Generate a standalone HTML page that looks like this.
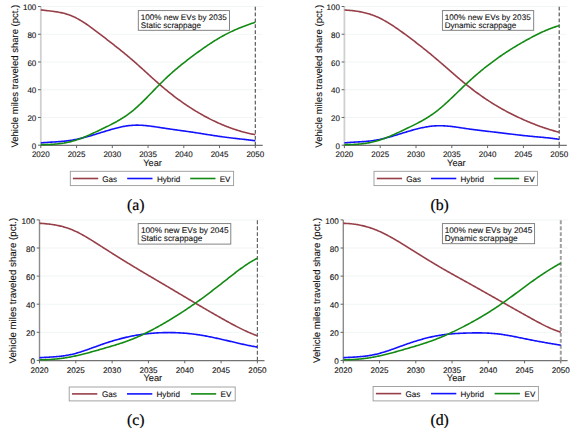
<!DOCTYPE html>
<html><head><meta charset="utf-8"><style>
html,body{margin:0;padding:0;background:#fff;}
body{width:575px;height:428px;overflow:hidden;}
svg{display:block;}
text{font-family:"Liberation Sans",sans-serif;fill:#111;stroke:#111;stroke-width:0.1px;text-rendering:geometricPrecision;}
text.lab{font-family:"Liberation Serif",serif;fill:#000;stroke:#000;stroke-width:0.2px;}
</style></head><body>
<svg width="575" height="428" viewBox="0 0 575 428" xmlns="http://www.w3.org/2000/svg">
<rect width="575" height="428" fill="#fff"/>
<line x1="40.80" y1="117.46" x2="262.70" y2="117.46" stroke="#edf2f3" stroke-width="0.8"/>
<line x1="40.80" y1="89.72" x2="262.70" y2="89.72" stroke="#edf2f3" stroke-width="0.8"/>
<line x1="40.80" y1="61.98" x2="262.70" y2="61.98" stroke="#edf2f3" stroke-width="0.8"/>
<line x1="40.80" y1="34.24" x2="262.70" y2="34.24" stroke="#edf2f3" stroke-width="0.8"/>
<line x1="40.80" y1="6.50" x2="262.70" y2="6.50" stroke="#edf2f3" stroke-width="0.8"/>
<line x1="40.80" y1="6.50" x2="40.80" y2="145.20" stroke="#d0d0d0" stroke-width="1.8"/>
<line x1="39.90" y1="145.40" x2="262.70" y2="145.40" stroke="#727272" stroke-width="1.25"/>
<line x1="38.00" y1="145.20" x2="40.80" y2="145.20" stroke="#666" stroke-width="1"/>
<text x="36.30" y="148.80" text-anchor="end" font-size="8">0</text>
<line x1="38.00" y1="117.46" x2="40.80" y2="117.46" stroke="#666" stroke-width="1"/>
<text x="36.30" y="121.06" text-anchor="end" font-size="8">20</text>
<line x1="38.00" y1="89.72" x2="40.80" y2="89.72" stroke="#666" stroke-width="1"/>
<text x="36.30" y="93.32" text-anchor="end" font-size="8">40</text>
<line x1="38.00" y1="61.98" x2="40.80" y2="61.98" stroke="#666" stroke-width="1"/>
<text x="36.30" y="65.58" text-anchor="end" font-size="8">60</text>
<line x1="38.00" y1="34.24" x2="40.80" y2="34.24" stroke="#666" stroke-width="1"/>
<text x="36.30" y="37.84" text-anchor="end" font-size="8">80</text>
<line x1="38.00" y1="6.50" x2="40.80" y2="6.50" stroke="#666" stroke-width="1"/>
<text x="36.30" y="10.10" text-anchor="end" font-size="8">100</text>
<line x1="40.80" y1="145.20" x2="40.80" y2="148.10" stroke="#666" stroke-width="1"/>
<text x="40.80" y="157.00" text-anchor="middle" font-size="8">2020</text>
<line x1="76.55" y1="145.20" x2="76.55" y2="148.10" stroke="#666" stroke-width="1"/>
<text x="76.55" y="157.00" text-anchor="middle" font-size="8">2025</text>
<line x1="112.30" y1="145.20" x2="112.30" y2="148.10" stroke="#666" stroke-width="1"/>
<text x="112.30" y="157.00" text-anchor="middle" font-size="8">2030</text>
<line x1="148.05" y1="145.20" x2="148.05" y2="148.10" stroke="#666" stroke-width="1"/>
<text x="148.05" y="157.00" text-anchor="middle" font-size="8">2035</text>
<line x1="183.80" y1="145.20" x2="183.80" y2="148.10" stroke="#666" stroke-width="1"/>
<text x="183.80" y="157.00" text-anchor="middle" font-size="8">2040</text>
<line x1="219.55" y1="145.20" x2="219.55" y2="148.10" stroke="#666" stroke-width="1"/>
<text x="219.55" y="157.00" text-anchor="middle" font-size="8">2045</text>
<line x1="255.30" y1="145.20" x2="255.30" y2="148.10" stroke="#666" stroke-width="1"/>
<text x="255.30" y="157.00" text-anchor="middle" font-size="8">2050</text>
<text x="152.55" y="165.90" text-anchor="middle" font-size="9.2">Year</text>
<line x1="255.30" y1="6.50" x2="255.30" y2="145.20" stroke="#4a4a4a" stroke-width="1.1" stroke-dasharray="3.7 2.175" stroke-dashoffset="-0.2"/>
<path d="M40.80,9.84 L41.80,9.97 L42.80,10.10 L43.81,10.23 L44.81,10.35 L45.81,10.47 L46.81,10.59 L47.82,10.70 L48.82,10.82 L49.82,10.94 L50.82,11.06 L51.83,11.19 L52.83,11.32 L53.83,11.45 L54.83,11.59 L55.84,11.74 L56.84,11.90 L57.84,12.07 L58.84,12.24 L59.84,12.43 L60.85,12.63 L61.85,12.85 L62.85,13.08 L63.85,13.33 L64.86,13.59 L65.86,13.87 L66.86,14.17 L67.86,14.48 L68.87,14.82 L69.87,15.18 L70.87,15.56 L71.87,15.97 L72.87,16.40 L73.88,16.85 L74.88,17.33 L75.88,17.82 L76.88,18.34 L77.89,18.88 L78.89,19.44 L79.89,20.01 L80.89,20.60 L81.90,21.21 L82.90,21.83 L83.90,22.47 L84.90,23.13 L85.91,23.79 L86.91,24.47 L87.91,25.17 L88.91,25.87 L89.91,26.58 L90.92,27.30 L91.92,28.03 L92.92,28.77 L93.92,29.52 L94.93,30.27 L95.93,31.03 L96.93,31.79 L97.93,32.56 L98.94,33.33 L99.94,34.10 L100.94,34.87 L101.94,35.65 L102.94,36.42 L103.95,37.19 L104.95,37.97 L105.95,38.74 L106.95,39.52 L107.96,40.29 L108.96,41.07 L109.96,41.85 L110.96,42.62 L111.97,43.41 L112.97,44.19 L113.97,44.97 L114.97,45.76 L115.98,46.55 L116.98,47.34 L117.98,48.14 L118.98,48.94 L119.98,49.74 L120.99,50.55 L121.99,51.36 L122.99,52.17 L123.99,52.99 L125.00,53.81 L126.00,54.64 L127.00,55.47 L128.00,56.31 L129.01,57.15 L130.01,58.00 L131.01,58.86 L132.01,59.72 L133.01,60.58 L134.02,61.46 L135.02,62.34 L136.02,63.22 L137.02,64.11 L138.03,65.00 L139.03,65.90 L140.03,66.80 L141.03,67.71 L142.04,68.61 L143.04,69.52 L144.04,70.43 L145.04,71.34 L146.05,72.26 L147.05,73.17 L148.05,74.08 L149.05,74.99 L150.05,75.90 L151.06,76.81 L152.06,77.72 L153.06,78.62 L154.06,79.52 L155.07,80.42 L156.07,81.31 L157.07,82.20 L158.07,83.08 L159.08,83.96 L160.08,84.83 L161.08,85.70 L162.08,86.56 L163.09,87.41 L164.09,88.26 L165.09,89.09 L166.09,89.92 L167.09,90.74 L168.10,91.55 L169.10,92.36 L170.10,93.16 L171.10,93.95 L172.11,94.73 L173.11,95.50 L174.11,96.27 L175.11,97.03 L176.12,97.78 L177.12,98.53 L178.12,99.27 L179.12,100.00 L180.12,100.72 L181.13,101.43 L182.13,102.14 L183.13,102.84 L184.13,103.54 L185.14,104.22 L186.14,104.90 L187.14,105.57 L188.14,106.24 L189.15,106.90 L190.15,107.55 L191.15,108.19 L192.15,108.83 L193.16,109.46 L194.16,110.08 L195.16,110.70 L196.16,111.31 L197.16,111.91 L198.17,112.50 L199.17,113.09 L200.17,113.67 L201.17,114.25 L202.18,114.82 L203.18,115.38 L204.18,115.93 L205.18,116.48 L206.19,117.02 L207.19,117.55 L208.19,118.08 L209.19,118.60 L210.19,119.11 L211.20,119.61 L212.20,120.11 L213.20,120.60 L214.20,121.08 L215.21,121.56 L216.21,122.03 L217.21,122.49 L218.21,122.94 L219.22,123.39 L220.22,123.83 L221.22,124.26 L222.22,124.69 L223.23,125.11 L224.23,125.52 L225.23,125.92 L226.23,126.32 L227.23,126.71 L228.24,127.09 L229.24,127.46 L230.24,127.83 L231.24,128.19 L232.25,128.54 L233.25,128.89 L234.25,129.23 L235.25,129.56 L236.26,129.88 L237.26,130.20 L238.26,130.51 L239.26,130.81 L240.26,131.11 L241.27,131.40 L242.27,131.68 L243.27,131.96 L244.27,132.22 L245.28,132.49 L246.28,132.74 L247.28,132.99 L248.28,133.23 L249.29,133.46 L250.29,133.69 L251.29,133.91 L252.29,134.12 L253.30,134.33 L254.30,134.52 L255.30,134.72" fill="none" stroke="#973f48" stroke-width="1.6" stroke-linejoin="round"/>
<path d="M40.80,142.89 L41.80,142.80 L42.80,142.72 L43.81,142.64 L44.81,142.56 L45.81,142.49 L46.81,142.43 L47.82,142.36 L48.82,142.30 L49.82,142.23 L50.82,142.17 L51.83,142.11 L52.83,142.05 L53.83,141.99 L54.83,141.93 L55.84,141.86 L56.84,141.80 L57.84,141.73 L58.84,141.66 L59.84,141.58 L60.85,141.50 L61.85,141.41 L62.85,141.32 L63.85,141.23 L64.86,141.13 L65.86,141.02 L66.86,140.90 L67.86,140.78 L68.87,140.65 L69.87,140.51 L70.87,140.36 L71.87,140.20 L72.87,140.03 L73.88,139.85 L74.88,139.66 L75.88,139.46 L76.88,139.26 L77.89,139.04 L78.89,138.82 L79.89,138.59 L80.89,138.35 L81.90,138.11 L82.90,137.86 L83.90,137.60 L84.90,137.34 L85.91,137.07 L86.91,136.80 L87.91,136.52 L88.91,136.24 L89.91,135.95 L90.92,135.66 L91.92,135.36 L92.92,135.07 L93.92,134.77 L94.93,134.46 L95.93,134.16 L96.93,133.85 L97.93,133.54 L98.94,133.23 L99.94,132.92 L100.94,132.61 L101.94,132.30 L102.94,131.99 L103.95,131.68 L104.95,131.37 L105.95,131.06 L106.95,130.76 L107.96,130.45 L108.96,130.15 L109.96,129.86 L110.96,129.57 L111.97,129.28 L112.97,129.00 L113.97,128.72 L114.97,128.45 L115.98,128.19 L116.98,127.94 L117.98,127.69 L118.98,127.45 L119.98,127.22 L120.99,127.00 L121.99,126.79 L122.99,126.59 L123.99,126.40 L125.00,126.22 L126.00,126.06 L127.00,125.90 L128.00,125.76 L129.01,125.64 L130.01,125.52 L131.01,125.43 L132.01,125.34 L133.01,125.28 L134.02,125.22 L135.02,125.19 L136.02,125.17 L137.02,125.16 L138.03,125.16 L139.03,125.18 L140.03,125.21 L141.03,125.26 L142.04,125.31 L143.04,125.38 L144.04,125.45 L145.04,125.54 L146.05,125.63 L147.05,125.73 L148.05,125.84 L149.05,125.95 L150.05,126.08 L151.06,126.21 L152.06,126.34 L153.06,126.48 L154.06,126.62 L155.07,126.77 L156.07,126.92 L157.07,127.07 L158.07,127.22 L159.08,127.38 L160.08,127.53 L161.08,127.69 L162.08,127.85 L163.09,128.00 L164.09,128.15 L165.09,128.31 L166.09,128.46 L167.09,128.60 L168.10,128.75 L169.10,128.90 L170.10,129.04 L171.10,129.19 L172.11,129.33 L173.11,129.47 L174.11,129.61 L175.11,129.75 L176.12,129.89 L177.12,130.03 L178.12,130.17 L179.12,130.31 L180.12,130.45 L181.13,130.59 L182.13,130.73 L183.13,130.87 L184.13,131.01 L185.14,131.15 L186.14,131.29 L187.14,131.44 L188.14,131.58 L189.15,131.72 L190.15,131.87 L191.15,132.01 L192.15,132.16 L193.16,132.31 L194.16,132.46 L195.16,132.61 L196.16,132.77 L197.16,132.92 L198.17,133.08 L199.17,133.23 L200.17,133.39 L201.17,133.55 L202.18,133.71 L203.18,133.87 L204.18,134.03 L205.18,134.19 L206.19,134.35 L207.19,134.51 L208.19,134.67 L209.19,134.83 L210.19,134.98 L211.20,135.14 L212.20,135.30 L213.20,135.45 L214.20,135.61 L215.21,135.76 L216.21,135.91 L217.21,136.06 L218.21,136.21 L219.22,136.36 L220.22,136.50 L221.22,136.65 L222.22,136.79 L223.23,136.92 L224.23,137.06 L225.23,137.19 L226.23,137.32 L227.23,137.45 L228.24,137.57 L229.24,137.70 L230.24,137.82 L231.24,137.94 L232.25,138.05 L233.25,138.17 L234.25,138.29 L235.25,138.40 L236.26,138.51 L237.26,138.63 L238.26,138.74 L239.26,138.85 L240.26,138.96 L241.27,139.07 L242.27,139.19 L243.27,139.30 L244.27,139.41 L245.28,139.53 L246.28,139.65 L247.28,139.76 L248.28,139.88 L249.29,140.00 L250.29,140.12 L251.29,140.25 L252.29,140.38 L253.30,140.50 L254.30,140.64 L255.30,140.77" fill="none" stroke="#1212ff" stroke-width="1.6" stroke-linejoin="round"/>
<path d="M40.80,144.63 L41.80,144.62 L42.80,144.61 L43.81,144.60 L44.81,144.59 L45.81,144.57 L46.81,144.54 L47.82,144.51 L48.82,144.48 L49.82,144.44 L50.82,144.39 L51.83,144.34 L52.83,144.28 L53.83,144.21 L54.83,144.14 L55.84,144.06 L56.84,143.97 L57.84,143.87 L58.84,143.76 L59.84,143.64 L60.85,143.51 L61.85,143.37 L62.85,143.22 L63.85,143.07 L64.86,142.89 L65.86,142.71 L66.86,142.52 L67.86,142.31 L68.87,142.09 L69.87,141.85 L70.87,141.61 L71.87,141.34 L72.87,141.07 L73.88,140.78 L74.88,140.48 L75.88,140.16 L76.88,139.83 L77.89,139.49 L78.89,139.14 L79.89,138.78 L80.89,138.41 L81.90,138.03 L82.90,137.63 L83.90,137.23 L84.90,136.83 L85.91,136.41 L86.91,135.98 L87.91,135.55 L88.91,135.11 L89.91,134.67 L90.92,134.22 L91.92,133.76 L92.92,133.30 L93.92,132.84 L94.93,132.37 L95.93,131.90 L96.93,131.42 L97.93,130.95 L98.94,130.47 L99.94,129.99 L100.94,129.50 L101.94,129.02 L102.94,128.54 L103.95,128.05 L104.95,127.57 L105.95,127.08 L106.95,126.59 L107.96,126.10 L108.96,125.60 L109.96,125.10 L110.96,124.59 L111.97,124.07 L112.97,123.55 L113.97,123.02 L114.97,122.48 L115.98,121.94 L116.98,121.38 L117.98,120.81 L118.98,120.23 L119.98,119.64 L120.99,119.03 L121.99,118.42 L122.99,117.78 L123.99,117.14 L125.00,116.47 L126.00,115.79 L127.00,115.10 L128.00,114.38 L129.01,113.65 L130.01,112.90 L131.01,112.12 L132.01,111.33 L133.01,110.51 L134.02,109.68 L135.02,108.82 L136.02,107.94 L137.02,107.05 L138.03,106.14 L139.03,105.21 L140.03,104.27 L141.03,103.31 L142.04,102.34 L143.04,101.36 L144.04,100.37 L145.04,99.37 L146.05,98.35 L147.05,97.34 L148.05,96.31 L149.05,95.29 L150.05,94.25 L151.06,93.22 L152.06,92.18 L153.06,91.14 L154.06,90.10 L155.07,89.07 L156.07,88.03 L157.07,87.00 L158.07,85.98 L159.08,84.96 L160.08,83.95 L161.08,82.94 L162.08,81.95 L163.09,80.96 L164.09,79.99 L165.09,79.03 L166.09,78.08 L167.09,77.14 L168.10,76.21 L169.10,75.29 L170.10,74.38 L171.10,73.48 L172.11,72.59 L173.11,71.71 L174.11,70.84 L175.11,69.98 L176.12,69.13 L177.12,68.28 L178.12,67.45 L179.12,66.62 L180.12,65.80 L181.13,64.98 L182.13,64.18 L183.13,63.38 L184.13,62.58 L185.14,61.79 L186.14,61.01 L187.14,60.23 L188.14,59.46 L189.15,58.70 L190.15,57.93 L191.15,57.18 L192.15,56.42 L193.16,55.68 L194.16,54.93 L195.16,54.19 L196.16,53.45 L197.16,52.72 L198.17,51.99 L199.17,51.26 L200.17,50.54 L201.17,49.82 L202.18,49.11 L203.18,48.41 L204.18,47.71 L205.18,47.01 L206.19,46.32 L207.19,45.64 L208.19,44.96 L209.19,44.29 L210.19,43.63 L211.20,42.97 L212.20,42.32 L213.20,41.68 L214.20,41.05 L215.21,40.42 L216.21,39.81 L217.21,39.20 L218.21,38.60 L219.22,38.00 L220.22,37.42 L221.22,36.85 L222.22,36.28 L223.23,35.73 L224.23,35.18 L225.23,34.65 L226.23,34.12 L227.23,33.61 L228.24,33.10 L229.24,32.60 L230.24,32.12 L231.24,31.64 L232.25,31.17 L233.25,30.71 L234.25,30.26 L235.25,29.81 L236.26,29.37 L237.26,28.94 L238.26,28.52 L239.26,28.11 L240.26,27.70 L241.27,27.30 L242.27,26.90 L243.27,26.52 L244.27,26.13 L245.28,25.76 L246.28,25.39 L247.28,25.02 L248.28,24.66 L249.29,24.31 L250.29,23.96 L251.29,23.61 L252.29,23.27 L253.30,22.93 L254.30,22.60 L255.30,22.27" fill="none" stroke="#138a13" stroke-width="1.6" stroke-linejoin="round"/>
<rect x="138.30" y="10.60" width="91.20" height="19.70" fill="#fff" stroke="#777" stroke-width="0.9"/>
<text x="140.80" y="19.70" font-size="8.1">100% new EVs by 2035</text>
<text x="140.80" y="27.90" font-size="8.1">Static scrappage</text>
<rect x="70.30" y="171.30" width="163.30" height="14.30" fill="#fff" stroke="#9a9a9a" stroke-width="0.9"/>
<line x1="72.90" y1="178.50" x2="98.20" y2="178.50" stroke="#973f48" stroke-width="1.6"/>
<text x="102.30" y="181.60" font-size="8.1">Gas</text>
<line x1="127.20" y1="178.50" x2="152.50" y2="178.50" stroke="#1212ff" stroke-width="1.6"/>
<text x="156.90" y="181.60" font-size="8.1">Hybrid</text>
<line x1="190.20" y1="178.50" x2="215.50" y2="178.50" stroke="#138a13" stroke-width="1.6"/>
<text x="219.70" y="181.60" font-size="8.1">EV</text>
<text transform="translate(18.40,76.15) rotate(-90)" text-anchor="middle" font-size="9.52">Vehicle miles traveled share (pct.)</text>
<text x="126.90" y="209.50" class="lab" font-size="15.8">(a)</text>
<line x1="344.40" y1="117.46" x2="566.80" y2="117.46" stroke="#edf2f3" stroke-width="0.8"/>
<line x1="344.40" y1="89.72" x2="566.80" y2="89.72" stroke="#edf2f3" stroke-width="0.8"/>
<line x1="344.40" y1="61.98" x2="566.80" y2="61.98" stroke="#edf2f3" stroke-width="0.8"/>
<line x1="344.40" y1="34.24" x2="566.80" y2="34.24" stroke="#edf2f3" stroke-width="0.8"/>
<line x1="344.40" y1="6.50" x2="566.80" y2="6.50" stroke="#edf2f3" stroke-width="0.8"/>
<line x1="344.40" y1="6.50" x2="344.40" y2="145.20" stroke="#d0d0d0" stroke-width="1.8"/>
<line x1="343.50" y1="145.40" x2="566.80" y2="145.40" stroke="#727272" stroke-width="1.25"/>
<line x1="341.60" y1="145.20" x2="344.40" y2="145.20" stroke="#666" stroke-width="1"/>
<text x="339.90" y="148.80" text-anchor="end" font-size="8">0</text>
<line x1="341.60" y1="117.46" x2="344.40" y2="117.46" stroke="#666" stroke-width="1"/>
<text x="339.90" y="121.06" text-anchor="end" font-size="8">20</text>
<line x1="341.60" y1="89.72" x2="344.40" y2="89.72" stroke="#666" stroke-width="1"/>
<text x="339.90" y="93.32" text-anchor="end" font-size="8">40</text>
<line x1="341.60" y1="61.98" x2="344.40" y2="61.98" stroke="#666" stroke-width="1"/>
<text x="339.90" y="65.58" text-anchor="end" font-size="8">60</text>
<line x1="341.60" y1="34.24" x2="344.40" y2="34.24" stroke="#666" stroke-width="1"/>
<text x="339.90" y="37.84" text-anchor="end" font-size="8">80</text>
<line x1="341.60" y1="6.50" x2="344.40" y2="6.50" stroke="#666" stroke-width="1"/>
<text x="339.90" y="10.10" text-anchor="end" font-size="8">100</text>
<line x1="344.40" y1="145.20" x2="344.40" y2="148.10" stroke="#666" stroke-width="1"/>
<text x="344.40" y="157.00" text-anchor="middle" font-size="8">2020</text>
<line x1="380.20" y1="145.20" x2="380.20" y2="148.10" stroke="#666" stroke-width="1"/>
<text x="380.20" y="157.00" text-anchor="middle" font-size="8">2025</text>
<line x1="416.00" y1="145.20" x2="416.00" y2="148.10" stroke="#666" stroke-width="1"/>
<text x="416.00" y="157.00" text-anchor="middle" font-size="8">2030</text>
<line x1="451.80" y1="145.20" x2="451.80" y2="148.10" stroke="#666" stroke-width="1"/>
<text x="451.80" y="157.00" text-anchor="middle" font-size="8">2035</text>
<line x1="487.60" y1="145.20" x2="487.60" y2="148.10" stroke="#666" stroke-width="1"/>
<text x="487.60" y="157.00" text-anchor="middle" font-size="8">2040</text>
<line x1="523.40" y1="145.20" x2="523.40" y2="148.10" stroke="#666" stroke-width="1"/>
<text x="523.40" y="157.00" text-anchor="middle" font-size="8">2045</text>
<line x1="559.20" y1="145.20" x2="559.20" y2="148.10" stroke="#666" stroke-width="1"/>
<text x="559.20" y="157.00" text-anchor="middle" font-size="8">2050</text>
<text x="456.40" y="165.90" text-anchor="middle" font-size="9.2">Year</text>
<line x1="559.20" y1="6.50" x2="559.20" y2="145.20" stroke="#4a4a4a" stroke-width="1.1" stroke-dasharray="3.7 2.175" stroke-dashoffset="-0.2"/>
<path d="M344.40,9.96 L345.40,10.03 L346.41,10.10 L347.41,10.18 L348.41,10.27 L349.42,10.36 L350.42,10.46 L351.43,10.56 L352.43,10.67 L353.43,10.78 L354.44,10.91 L355.44,11.04 L356.44,11.18 L357.45,11.33 L358.45,11.49 L359.46,11.66 L360.46,11.84 L361.46,12.04 L362.47,12.24 L363.47,12.46 L364.47,12.69 L365.48,12.93 L366.48,13.19 L367.49,13.46 L368.49,13.75 L369.49,14.05 L370.50,14.37 L371.50,14.70 L372.50,15.05 L373.51,15.42 L374.51,15.81 L375.52,16.22 L376.52,16.64 L377.52,17.08 L378.53,17.54 L379.53,18.02 L380.53,18.51 L381.54,19.02 L382.54,19.55 L383.55,20.09 L384.55,20.64 L385.55,21.21 L386.56,21.79 L387.56,22.38 L388.56,22.99 L389.57,23.61 L390.57,24.24 L391.58,24.88 L392.58,25.53 L393.58,26.19 L394.59,26.86 L395.59,27.54 L396.59,28.23 L397.60,28.93 L398.60,29.63 L399.61,30.34 L400.61,31.05 L401.61,31.77 L402.62,32.50 L403.62,33.23 L404.62,33.97 L405.63,34.70 L406.63,35.45 L407.64,36.19 L408.64,36.94 L409.64,37.69 L410.65,38.44 L411.65,39.20 L412.65,39.96 L413.66,40.72 L414.66,41.49 L415.67,42.26 L416.67,43.03 L417.67,43.81 L418.68,44.59 L419.68,45.37 L420.68,46.16 L421.69,46.95 L422.69,47.75 L423.70,48.55 L424.70,49.35 L425.70,50.15 L426.71,50.96 L427.71,51.78 L428.71,52.60 L429.72,53.42 L430.72,54.24 L431.73,55.07 L432.73,55.91 L433.73,56.75 L434.74,57.59 L435.74,58.43 L436.74,59.29 L437.75,60.14 L438.75,61.00 L439.76,61.86 L440.76,62.73 L441.76,63.60 L442.77,64.47 L443.77,65.34 L444.77,66.21 L445.78,67.09 L446.78,67.96 L447.79,68.84 L448.79,69.72 L449.79,70.59 L450.80,71.47 L451.80,72.34 L452.80,73.21 L453.81,74.08 L454.81,74.95 L455.81,75.82 L456.82,76.68 L457.82,77.54 L458.83,78.40 L459.83,79.25 L460.83,80.09 L461.84,80.93 L462.84,81.77 L463.84,82.60 L464.85,83.43 L465.85,84.24 L466.86,85.05 L467.86,85.86 L468.86,86.65 L469.87,87.44 L470.87,88.22 L471.87,89.00 L472.88,89.76 L473.88,90.52 L474.89,91.27 L475.89,92.02 L476.89,92.75 L477.90,93.48 L478.90,94.21 L479.90,94.92 L480.91,95.63 L481.91,96.33 L482.92,97.03 L483.92,97.72 L484.92,98.40 L485.93,99.07 L486.93,99.74 L487.93,100.40 L488.94,101.05 L489.94,101.70 L490.95,102.34 L491.95,102.97 L492.95,103.59 L493.96,104.21 L494.96,104.82 L495.96,105.43 L496.97,106.03 L497.97,106.62 L498.98,107.21 L499.98,107.79 L500.98,108.36 L501.99,108.93 L502.99,109.49 L503.99,110.04 L505.00,110.59 L506.00,111.13 L507.01,111.67 L508.01,112.20 L509.01,112.72 L510.02,113.24 L511.02,113.75 L512.02,114.26 L513.03,114.76 L514.03,115.25 L515.04,115.74 L516.04,116.23 L517.04,116.71 L518.05,117.18 L519.05,117.65 L520.05,118.12 L521.06,118.57 L522.06,119.03 L523.07,119.48 L524.07,119.92 L525.07,120.36 L526.08,120.79 L527.08,121.22 L528.08,121.65 L529.09,122.07 L530.09,122.49 L531.10,122.90 L532.10,123.31 L533.10,123.71 L534.11,124.11 L535.11,124.50 L536.11,124.89 L537.12,125.27 L538.12,125.64 L539.13,126.02 L540.13,126.38 L541.13,126.74 L542.14,127.10 L543.14,127.45 L544.14,127.79 L545.15,128.13 L546.15,128.46 L547.16,128.79 L548.16,129.11 L549.16,129.42 L550.17,129.73 L551.17,130.03 L552.17,130.32 L553.18,130.61 L554.18,130.89 L555.19,131.17 L556.19,131.44 L557.19,131.70 L558.20,131.95 L559.20,132.20" fill="none" stroke="#973f48" stroke-width="1.6" stroke-linejoin="round"/>
<path d="M344.40,142.92 L345.40,142.82 L346.41,142.72 L347.41,142.63 L348.41,142.54 L349.42,142.47 L350.42,142.39 L351.43,142.32 L352.43,142.26 L353.43,142.19 L354.44,142.13 L355.44,142.07 L356.44,142.01 L357.45,141.96 L358.45,141.90 L359.46,141.84 L360.46,141.78 L361.46,141.71 L362.47,141.65 L363.47,141.58 L364.47,141.51 L365.48,141.43 L366.48,141.34 L367.49,141.26 L368.49,141.16 L369.49,141.06 L370.50,140.94 L371.50,140.82 L372.50,140.70 L373.51,140.56 L374.51,140.41 L375.52,140.25 L376.52,140.07 L377.52,139.89 L378.53,139.70 L379.53,139.50 L380.53,139.28 L381.54,139.06 L382.54,138.83 L383.55,138.59 L384.55,138.35 L385.55,138.09 L386.56,137.83 L387.56,137.56 L388.56,137.29 L389.57,137.01 L390.57,136.73 L391.58,136.44 L392.58,136.15 L393.58,135.85 L394.59,135.55 L395.59,135.25 L396.59,134.95 L397.60,134.64 L398.60,134.33 L399.61,134.02 L400.61,133.71 L401.61,133.40 L402.62,133.09 L403.62,132.78 L404.62,132.48 L405.63,132.17 L406.63,131.87 L407.64,131.56 L408.64,131.26 L409.64,130.97 L410.65,130.68 L411.65,130.39 L412.65,130.11 L413.66,129.83 L414.66,129.56 L415.67,129.29 L416.67,129.03 L417.67,128.78 L418.68,128.53 L419.68,128.29 L420.68,128.06 L421.69,127.84 L422.69,127.62 L423.70,127.42 L424.70,127.22 L425.70,127.04 L426.71,126.86 L427.71,126.70 L428.71,126.55 L429.72,126.40 L430.72,126.28 L431.73,126.16 L432.73,126.06 L433.73,125.97 L434.74,125.89 L435.74,125.83 L436.74,125.78 L437.75,125.75 L438.75,125.73 L439.76,125.73 L440.76,125.73 L441.76,125.76 L442.77,125.79 L443.77,125.83 L444.77,125.89 L445.78,125.95 L446.78,126.03 L447.79,126.11 L448.79,126.21 L449.79,126.31 L450.80,126.42 L451.80,126.53 L452.80,126.65 L453.81,126.78 L454.81,126.91 L455.81,127.05 L456.82,127.19 L457.82,127.33 L458.83,127.48 L459.83,127.63 L460.83,127.78 L461.84,127.93 L462.84,128.08 L463.84,128.23 L464.85,128.38 L465.85,128.53 L466.86,128.68 L467.86,128.82 L468.86,128.97 L469.87,129.11 L470.87,129.24 L471.87,129.38 L472.88,129.51 L473.88,129.64 L474.89,129.77 L475.89,129.90 L476.89,130.03 L477.90,130.15 L478.90,130.28 L479.90,130.40 L480.91,130.52 L481.91,130.64 L482.92,130.76 L483.92,130.87 L484.92,130.99 L485.93,131.11 L486.93,131.22 L487.93,131.34 L488.94,131.45 L489.94,131.57 L490.95,131.69 L491.95,131.80 L492.95,131.92 L493.96,132.03 L494.96,132.15 L495.96,132.26 L496.97,132.38 L497.97,132.50 L498.98,132.62 L499.98,132.74 L500.98,132.86 L501.99,132.98 L502.99,133.10 L503.99,133.23 L505.00,133.35 L506.00,133.47 L507.01,133.59 L508.01,133.72 L509.01,133.84 L510.02,133.96 L511.02,134.08 L512.02,134.21 L513.03,134.33 L514.03,134.45 L515.04,134.57 L516.04,134.69 L517.04,134.80 L518.05,134.92 L519.05,135.04 L520.05,135.15 L521.06,135.27 L522.06,135.38 L523.07,135.49 L524.07,135.60 L525.07,135.71 L526.08,135.81 L527.08,135.91 L528.08,136.02 L529.09,136.12 L530.09,136.21 L531.10,136.31 L532.10,136.40 L533.10,136.50 L534.11,136.59 L535.11,136.68 L536.11,136.77 L537.12,136.86 L538.12,136.95 L539.13,137.04 L540.13,137.13 L541.13,137.22 L542.14,137.32 L543.14,137.41 L544.14,137.51 L545.15,137.61 L546.15,137.71 L547.16,137.81 L548.16,137.92 L549.16,138.03 L550.17,138.14 L551.17,138.25 L552.17,138.37 L553.18,138.50 L554.18,138.62 L555.19,138.76 L556.19,138.89 L557.19,139.04 L558.20,139.18 L559.20,139.34" fill="none" stroke="#1212ff" stroke-width="1.6" stroke-linejoin="round"/>
<path d="M344.40,144.62 L345.40,144.62 L346.41,144.61 L347.41,144.61 L348.41,144.59 L349.42,144.58 L350.42,144.55 L351.43,144.52 L352.43,144.49 L353.43,144.45 L354.44,144.40 L355.44,144.35 L356.44,144.29 L357.45,144.22 L358.45,144.15 L359.46,144.06 L360.46,143.97 L361.46,143.87 L362.47,143.76 L363.47,143.64 L364.47,143.51 L365.48,143.37 L366.48,143.21 L367.49,143.05 L368.49,142.88 L369.49,142.69 L370.50,142.50 L371.50,142.28 L372.50,142.06 L373.51,141.83 L374.51,141.58 L375.52,141.31 L376.52,141.04 L377.52,140.75 L378.53,140.44 L379.53,140.13 L380.53,139.80 L381.54,139.46 L382.54,139.11 L383.55,138.75 L384.55,138.38 L385.55,137.99 L386.56,137.60 L387.56,137.20 L388.56,136.80 L389.57,136.38 L390.57,135.96 L391.58,135.53 L392.58,135.09 L393.58,134.65 L394.59,134.20 L395.59,133.75 L396.59,133.29 L397.60,132.83 L398.60,132.36 L399.61,131.89 L400.61,131.42 L401.61,130.94 L402.62,130.47 L403.62,129.99 L404.62,129.51 L405.63,129.03 L406.63,128.55 L407.64,128.07 L408.64,127.59 L409.64,127.10 L410.65,126.62 L411.65,126.13 L412.65,125.64 L413.66,125.14 L414.66,124.64 L415.67,124.13 L416.67,123.62 L417.67,123.09 L418.68,122.57 L419.68,122.03 L420.68,121.49 L421.69,120.93 L422.69,120.37 L423.70,119.79 L424.70,119.21 L425.70,118.61 L426.71,118.00 L427.71,117.38 L428.71,116.74 L429.72,116.09 L430.72,115.43 L431.73,114.75 L432.73,114.05 L433.73,113.34 L434.74,112.60 L435.74,111.86 L436.74,111.09 L437.75,110.30 L438.75,109.50 L439.76,108.68 L440.76,107.84 L441.76,106.99 L442.77,106.12 L443.77,105.24 L444.77,104.35 L445.78,103.45 L446.78,102.53 L447.79,101.61 L448.79,100.67 L449.79,99.73 L450.80,98.78 L451.80,97.83 L452.80,96.87 L453.81,95.90 L454.81,94.93 L455.81,93.96 L456.82,92.99 L457.82,92.01 L458.83,91.04 L459.83,90.06 L460.83,89.09 L461.84,88.12 L462.84,87.15 L463.84,86.19 L464.85,85.24 L465.85,84.29 L466.86,83.34 L467.86,82.41 L468.86,81.48 L469.87,80.56 L470.87,79.65 L471.87,78.74 L472.88,77.85 L473.88,76.96 L474.89,76.08 L475.89,75.21 L476.89,74.34 L477.90,73.49 L478.90,72.64 L479.90,71.79 L480.91,70.96 L481.91,70.13 L482.92,69.31 L483.92,68.50 L484.92,67.70 L485.93,66.90 L486.93,66.11 L487.93,65.33 L488.94,64.55 L489.94,63.78 L490.95,63.02 L491.95,62.27 L492.95,61.52 L493.96,60.78 L494.96,60.05 L495.96,59.32 L496.97,58.60 L497.97,57.89 L498.98,57.18 L499.98,56.48 L500.98,55.78 L501.99,55.10 L502.99,54.42 L503.99,53.74 L505.00,53.07 L506.00,52.41 L507.01,51.76 L508.01,51.11 L509.01,50.46 L510.02,49.82 L511.02,49.19 L512.02,48.56 L513.03,47.94 L514.03,47.32 L515.04,46.71 L516.04,46.11 L517.04,45.51 L518.05,44.91 L519.05,44.32 L520.05,43.73 L521.06,43.15 L522.06,42.58 L523.07,42.01 L524.07,41.44 L525.07,40.88 L526.08,40.32 L527.08,39.77 L528.08,39.22 L529.09,38.68 L530.09,38.13 L531.10,37.60 L532.10,37.07 L533.10,36.54 L534.11,36.02 L535.11,35.51 L536.11,35.00 L537.12,34.50 L538.12,34.00 L539.13,33.51 L540.13,33.03 L541.13,32.56 L542.14,32.09 L543.14,31.64 L544.14,31.19 L545.15,30.74 L546.15,30.31 L547.16,29.89 L548.16,29.48 L549.16,29.07 L550.17,28.68 L551.17,28.29 L552.17,27.92 L553.18,27.56 L554.18,27.21 L555.19,26.87 L556.19,26.54 L557.19,26.22 L558.20,25.92 L559.20,25.63" fill="none" stroke="#138a13" stroke-width="1.6" stroke-linejoin="round"/>
<rect x="442.40" y="10.60" width="91.30" height="19.70" fill="#fff" stroke="#777" stroke-width="0.9"/>
<text x="444.70" y="19.70" font-size="8.1">100% new EVs by 2035</text>
<text x="444.70" y="27.90" font-size="8.1">Dynamic scrappage</text>
<rect x="374.00" y="171.30" width="163.50" height="14.30" fill="#fff" stroke="#9a9a9a" stroke-width="0.9"/>
<line x1="376.80" y1="178.50" x2="402.10" y2="178.50" stroke="#973f48" stroke-width="1.6"/>
<text x="406.30" y="181.60" font-size="8.1">Gas</text>
<line x1="431.00" y1="178.50" x2="456.30" y2="178.50" stroke="#1212ff" stroke-width="1.6"/>
<text x="460.50" y="181.60" font-size="8.1">Hybrid</text>
<line x1="493.90" y1="178.50" x2="519.20" y2="178.50" stroke="#138a13" stroke-width="1.6"/>
<text x="523.80" y="181.60" font-size="8.1">EV</text>
<text transform="translate(322.30,76.25) rotate(-90)" text-anchor="middle" font-size="9.53">Vehicle miles traveled share (pct.)</text>
<text x="430.40" y="209.50" class="lab" font-size="15.8">(b)</text>
<line x1="39.50" y1="332.30" x2="264.50" y2="332.30" stroke="#edf2f3" stroke-width="0.8"/>
<line x1="39.50" y1="304.20" x2="264.50" y2="304.20" stroke="#edf2f3" stroke-width="0.8"/>
<line x1="39.50" y1="276.10" x2="264.50" y2="276.10" stroke="#edf2f3" stroke-width="0.8"/>
<line x1="39.50" y1="248.00" x2="264.50" y2="248.00" stroke="#edf2f3" stroke-width="0.8"/>
<line x1="39.50" y1="219.90" x2="264.50" y2="219.90" stroke="#edf2f3" stroke-width="0.8"/>
<line x1="39.50" y1="219.90" x2="39.50" y2="360.40" stroke="#8c8c8c" stroke-width="1.4"/>
<line x1="38.60" y1="360.60" x2="264.50" y2="360.60" stroke="#727272" stroke-width="1.25"/>
<line x1="36.70" y1="360.40" x2="39.50" y2="360.40" stroke="#666" stroke-width="1"/>
<text x="35.00" y="364.00" text-anchor="end" font-size="8.15">0</text>
<line x1="36.70" y1="332.30" x2="39.50" y2="332.30" stroke="#666" stroke-width="1"/>
<text x="35.00" y="335.90" text-anchor="end" font-size="8.15">20</text>
<line x1="36.70" y1="304.20" x2="39.50" y2="304.20" stroke="#666" stroke-width="1"/>
<text x="35.00" y="307.80" text-anchor="end" font-size="8.15">40</text>
<line x1="36.70" y1="276.10" x2="39.50" y2="276.10" stroke="#666" stroke-width="1"/>
<text x="35.00" y="279.70" text-anchor="end" font-size="8.15">60</text>
<line x1="36.70" y1="248.00" x2="39.50" y2="248.00" stroke="#666" stroke-width="1"/>
<text x="35.00" y="251.60" text-anchor="end" font-size="8.15">80</text>
<line x1="36.70" y1="219.90" x2="39.50" y2="219.90" stroke="#666" stroke-width="1"/>
<text x="35.00" y="223.50" text-anchor="end" font-size="8.15">100</text>
<line x1="39.50" y1="360.40" x2="39.50" y2="363.30" stroke="#666" stroke-width="1"/>
<text x="39.50" y="372.70" text-anchor="middle" font-size="8.15">2020</text>
<line x1="75.82" y1="360.40" x2="75.82" y2="363.30" stroke="#666" stroke-width="1"/>
<text x="75.82" y="372.70" text-anchor="middle" font-size="8.15">2025</text>
<line x1="112.13" y1="360.40" x2="112.13" y2="363.30" stroke="#666" stroke-width="1"/>
<text x="112.13" y="372.70" text-anchor="middle" font-size="8.15">2030</text>
<line x1="148.45" y1="360.40" x2="148.45" y2="363.30" stroke="#666" stroke-width="1"/>
<text x="148.45" y="372.70" text-anchor="middle" font-size="8.15">2035</text>
<line x1="184.77" y1="360.40" x2="184.77" y2="363.30" stroke="#666" stroke-width="1"/>
<text x="184.77" y="372.70" text-anchor="middle" font-size="8.15">2040</text>
<line x1="221.08" y1="360.40" x2="221.08" y2="363.30" stroke="#666" stroke-width="1"/>
<text x="221.08" y="372.70" text-anchor="middle" font-size="8.15">2045</text>
<line x1="257.40" y1="360.40" x2="257.40" y2="363.30" stroke="#666" stroke-width="1"/>
<text x="257.40" y="372.70" text-anchor="middle" font-size="8.15">2050</text>
<text x="152.80" y="381.10" text-anchor="middle" font-size="9.3">Year</text>
<line x1="257.40" y1="219.90" x2="257.40" y2="360.40" stroke="#666" stroke-width="1.2" stroke-dasharray="3.9 2.03" stroke-dashoffset="-0.4"/>
<path d="M39.50,223.28 L40.50,223.34 L41.51,223.41 L42.51,223.48 L43.52,223.56 L44.52,223.64 L45.52,223.73 L46.53,223.83 L47.53,223.93 L48.54,224.04 L49.54,224.16 L50.55,224.29 L51.55,224.42 L52.55,224.57 L53.56,224.72 L54.56,224.88 L55.57,225.06 L56.57,225.24 L57.57,225.44 L58.58,225.65 L59.58,225.87 L60.59,226.10 L61.59,226.34 L62.60,226.60 L63.60,226.88 L64.60,227.16 L65.61,227.46 L66.61,227.78 L67.62,228.11 L68.62,228.46 L69.62,228.83 L70.63,229.21 L71.63,229.61 L72.64,230.02 L73.64,230.45 L74.65,230.90 L75.65,231.36 L76.65,231.84 L77.66,232.33 L78.66,232.83 L79.67,233.35 L80.67,233.88 L81.67,234.42 L82.68,234.97 L83.68,235.53 L84.69,236.10 L85.69,236.67 L86.69,237.26 L87.70,237.86 L88.70,238.46 L89.71,239.07 L90.71,239.68 L91.72,240.31 L92.72,240.93 L93.72,241.56 L94.73,242.20 L95.73,242.83 L96.74,243.47 L97.74,244.11 L98.74,244.76 L99.75,245.40 L100.75,246.05 L101.76,246.69 L102.76,247.33 L103.77,247.98 L104.77,248.62 L105.77,249.26 L106.78,249.90 L107.78,250.54 L108.79,251.17 L109.79,251.81 L110.79,252.45 L111.80,253.08 L112.80,253.71 L113.81,254.35 L114.81,254.98 L115.82,255.61 L116.82,256.24 L117.82,256.86 L118.83,257.49 L119.83,258.11 L120.84,258.74 L121.84,259.36 L122.84,259.98 L123.85,260.60 L124.85,261.22 L125.86,261.84 L126.86,262.45 L127.86,263.07 L128.87,263.68 L129.87,264.29 L130.88,264.91 L131.88,265.51 L132.89,266.12 L133.89,266.73 L134.89,267.33 L135.90,267.94 L136.90,268.54 L137.91,269.14 L138.91,269.74 L139.91,270.34 L140.92,270.94 L141.92,271.53 L142.93,272.13 L143.93,272.72 L144.94,273.32 L145.94,273.91 L146.94,274.50 L147.95,275.10 L148.95,275.69 L149.96,276.28 L150.96,276.87 L151.96,277.46 L152.97,278.05 L153.97,278.64 L154.98,279.23 L155.98,279.82 L156.99,280.41 L157.99,281.00 L158.99,281.60 L160.00,282.19 L161.00,282.78 L162.01,283.37 L163.01,283.96 L164.01,284.55 L165.02,285.15 L166.02,285.74 L167.03,286.33 L168.03,286.93 L169.04,287.52 L170.04,288.12 L171.04,288.71 L172.05,289.31 L173.05,289.90 L174.06,290.50 L175.06,291.10 L176.06,291.69 L177.07,292.29 L178.07,292.89 L179.08,293.48 L180.08,294.08 L181.08,294.68 L182.09,295.27 L183.09,295.87 L184.10,296.47 L185.10,297.06 L186.11,297.66 L187.11,298.26 L188.11,298.85 L189.12,299.45 L190.12,300.04 L191.13,300.64 L192.13,301.23 L193.13,301.83 L194.14,302.42 L195.14,303.01 L196.15,303.60 L197.15,304.20 L198.16,304.79 L199.16,305.38 L200.16,305.97 L201.17,306.56 L202.17,307.15 L203.18,307.73 L204.18,308.32 L205.18,308.91 L206.19,309.49 L207.19,310.07 L208.20,310.66 L209.20,311.24 L210.21,311.82 L211.21,312.40 L212.21,312.98 L213.22,313.55 L214.22,314.13 L215.23,314.71 L216.23,315.28 L217.23,315.85 L218.24,316.42 L219.24,316.99 L220.25,317.56 L221.25,318.12 L222.25,318.69 L223.26,319.25 L224.26,319.81 L225.27,320.37 L226.27,320.93 L227.28,321.48 L228.28,322.04 L229.28,322.59 L230.29,323.14 L231.29,323.68 L232.30,324.23 L233.30,324.76 L234.30,325.30 L235.31,325.83 L236.31,326.35 L237.32,326.88 L238.32,327.39 L239.33,327.90 L240.33,328.41 L241.33,328.90 L242.34,329.39 L243.34,329.88 L244.35,330.36 L245.35,330.83 L246.35,331.29 L247.36,331.74 L248.36,332.19 L249.37,332.63 L250.37,333.06 L251.38,333.47 L252.38,333.88 L253.38,334.28 L254.39,334.67 L255.39,335.05 L256.40,335.42 L257.40,335.78" fill="none" stroke="#973f48" stroke-width="1.6" stroke-linejoin="round"/>
<path d="M39.50,357.71 L40.50,357.64 L41.51,357.58 L42.51,357.52 L43.52,357.46 L44.52,357.41 L45.52,357.35 L46.53,357.30 L47.53,357.24 L48.54,357.18 L49.54,357.12 L50.55,357.06 L51.55,357.00 L52.55,356.93 L53.56,356.86 L54.56,356.79 L55.57,356.71 L56.57,356.63 L57.57,356.54 L58.58,356.44 L59.58,356.34 L60.59,356.23 L61.59,356.12 L62.60,355.99 L63.60,355.86 L64.60,355.71 L65.61,355.56 L66.61,355.40 L67.62,355.22 L68.62,355.04 L69.62,354.84 L70.63,354.63 L71.63,354.41 L72.64,354.18 L73.64,353.93 L74.65,353.67 L75.65,353.40 L76.65,353.13 L77.66,352.84 L78.66,352.54 L79.67,352.24 L80.67,351.92 L81.67,351.60 L82.68,351.27 L83.68,350.94 L84.69,350.60 L85.69,350.25 L86.69,349.91 L87.70,349.55 L88.70,349.19 L89.71,348.83 L90.71,348.47 L91.72,348.11 L92.72,347.74 L93.72,347.37 L94.73,347.01 L95.73,346.64 L96.74,346.27 L97.74,345.91 L98.74,345.55 L99.75,345.19 L100.75,344.83 L101.76,344.48 L102.76,344.13 L103.77,343.78 L104.77,343.44 L105.77,343.11 L106.78,342.77 L107.78,342.45 L108.79,342.12 L109.79,341.80 L110.79,341.49 L111.80,341.18 L112.80,340.88 L113.81,340.58 L114.81,340.28 L115.82,339.99 L116.82,339.71 L117.82,339.43 L118.83,339.15 L119.83,338.88 L120.84,338.62 L121.84,338.36 L122.84,338.11 L123.85,337.86 L124.85,337.62 L125.86,337.38 L126.86,337.15 L127.86,336.92 L128.87,336.70 L129.87,336.49 L130.88,336.28 L131.88,336.08 L132.89,335.89 L133.89,335.70 L134.89,335.51 L135.90,335.33 L136.90,335.16 L137.91,335.00 L138.91,334.84 L139.91,334.68 L140.92,334.53 L141.92,334.39 L142.93,334.26 L143.93,334.12 L144.94,334.00 L145.94,333.88 L146.94,333.76 L147.95,333.66 L148.95,333.55 L149.96,333.45 L150.96,333.36 L151.96,333.27 L152.97,333.19 L153.97,333.12 L154.98,333.05 L155.98,332.98 L156.99,332.92 L157.99,332.86 L158.99,332.81 L160.00,332.77 L161.00,332.72 L162.01,332.69 L163.01,332.66 L164.01,332.63 L165.02,332.61 L166.02,332.59 L167.03,332.58 L168.03,332.58 L169.04,332.57 L170.04,332.58 L171.04,332.59 L172.05,332.60 L173.05,332.62 L174.06,332.64 L175.06,332.67 L176.06,332.70 L177.07,332.74 L178.07,332.78 L179.08,332.83 L180.08,332.89 L181.08,332.94 L182.09,333.01 L183.09,333.08 L184.10,333.15 L185.10,333.23 L186.11,333.31 L187.11,333.40 L188.11,333.50 L189.12,333.60 L190.12,333.71 L191.13,333.82 L192.13,333.93 L193.13,334.05 L194.14,334.18 L195.14,334.31 L196.15,334.45 L197.15,334.59 L198.16,334.74 L199.16,334.90 L200.16,335.05 L201.17,335.22 L202.17,335.38 L203.18,335.56 L204.18,335.73 L205.18,335.91 L206.19,336.10 L207.19,336.28 L208.20,336.48 L209.20,336.67 L210.21,336.87 L211.21,337.07 L212.21,337.28 L213.22,337.49 L214.22,337.70 L215.23,337.91 L216.23,338.13 L217.23,338.35 L218.24,338.57 L219.24,338.79 L220.25,339.02 L221.25,339.24 L222.25,339.47 L223.26,339.70 L224.26,339.93 L225.27,340.17 L226.27,340.40 L227.28,340.64 L228.28,340.87 L229.28,341.11 L230.29,341.35 L231.29,341.59 L232.30,341.82 L233.30,342.06 L234.30,342.30 L235.31,342.53 L236.31,342.76 L237.32,343.00 L238.32,343.23 L239.33,343.46 L240.33,343.69 L241.33,343.91 L242.34,344.14 L243.34,344.36 L244.35,344.57 L245.35,344.79 L246.35,345.00 L247.36,345.21 L248.36,345.41 L249.37,345.61 L250.37,345.80 L251.38,345.99 L252.38,346.18 L253.38,346.36 L254.39,346.54 L255.39,346.71 L256.40,346.87 L257.40,347.03" fill="none" stroke="#1212ff" stroke-width="1.6" stroke-linejoin="round"/>
<path d="M39.50,359.72 L40.50,359.73 L41.51,359.73 L42.51,359.72 L43.52,359.70 L44.52,359.68 L45.52,359.66 L46.53,359.62 L47.53,359.58 L48.54,359.54 L49.54,359.49 L50.55,359.43 L51.55,359.36 L52.55,359.29 L53.56,359.22 L54.56,359.13 L55.57,359.04 L56.57,358.95 L57.57,358.84 L58.58,358.73 L59.58,358.62 L60.59,358.50 L61.59,358.37 L62.60,358.23 L63.60,358.09 L64.60,357.95 L65.61,357.79 L66.61,357.63 L67.62,357.46 L68.62,357.29 L69.62,357.11 L70.63,356.93 L71.63,356.73 L72.64,356.53 L73.64,356.33 L74.65,356.12 L75.65,355.90 L76.65,355.68 L77.66,355.45 L78.66,355.22 L79.67,354.98 L80.67,354.74 L81.67,354.50 L82.68,354.25 L83.68,353.99 L84.69,353.73 L85.69,353.47 L86.69,353.21 L87.70,352.94 L88.70,352.67 L89.71,352.40 L90.71,352.12 L91.72,351.85 L92.72,351.57 L93.72,351.29 L94.73,351.00 L95.73,350.72 L96.74,350.43 L97.74,350.15 L98.74,349.86 L99.75,349.57 L100.75,349.29 L101.76,349.00 L102.76,348.71 L103.77,348.43 L104.77,348.14 L105.77,347.85 L106.78,347.56 L107.78,347.27 L108.79,346.98 L109.79,346.69 L110.79,346.39 L111.80,346.10 L112.80,345.80 L113.81,345.49 L114.81,345.19 L115.82,344.88 L116.82,344.57 L117.82,344.26 L118.83,343.94 L119.83,343.61 L120.84,343.29 L121.84,342.95 L122.84,342.62 L123.85,342.28 L124.85,341.93 L125.86,341.57 L126.86,341.21 L127.86,340.85 L128.87,340.48 L129.87,340.10 L130.88,339.71 L131.88,339.32 L132.89,338.92 L133.89,338.51 L134.89,338.09 L135.90,337.67 L136.90,337.24 L137.91,336.80 L138.91,336.36 L139.91,335.90 L140.92,335.44 L141.92,334.98 L142.93,334.51 L143.93,334.03 L144.94,333.54 L145.94,333.05 L146.94,332.55 L147.95,332.05 L148.95,331.54 L149.96,331.03 L150.96,330.50 L151.96,329.98 L152.97,329.45 L153.97,328.91 L154.98,328.37 L155.98,327.82 L156.99,327.27 L157.99,326.72 L158.99,326.16 L160.00,325.59 L161.00,325.03 L162.01,324.45 L163.01,323.88 L164.01,323.30 L165.02,322.71 L166.02,322.13 L167.03,321.54 L168.03,320.94 L169.04,320.34 L170.04,319.74 L171.04,319.13 L172.05,318.52 L173.05,317.91 L174.06,317.29 L175.06,316.67 L176.06,316.04 L177.07,315.41 L178.07,314.78 L179.08,314.14 L180.08,313.50 L181.08,312.85 L182.09,312.20 L183.09,311.55 L184.10,310.89 L185.10,310.23 L186.11,309.56 L187.11,308.89 L188.11,308.21 L189.12,307.53 L190.12,306.85 L191.13,306.16 L192.13,305.46 L193.13,304.77 L194.14,304.06 L195.14,303.36 L196.15,302.65 L197.15,301.93 L198.16,301.21 L199.16,300.49 L200.16,299.76 L201.17,299.03 L202.17,298.29 L203.18,297.55 L204.18,296.81 L205.18,296.06 L206.19,295.31 L207.19,294.56 L208.20,293.80 L209.20,293.04 L210.21,292.28 L211.21,291.52 L212.21,290.75 L213.22,289.98 L214.22,289.21 L215.23,288.44 L216.23,287.66 L217.23,286.88 L218.24,286.10 L219.24,285.32 L220.25,284.54 L221.25,283.76 L222.25,282.97 L223.26,282.18 L224.26,281.39 L225.27,280.61 L226.27,279.82 L227.28,279.03 L228.28,278.24 L229.28,277.45 L230.29,276.66 L231.29,275.87 L232.30,275.09 L233.30,274.31 L234.30,273.53 L235.31,272.76 L236.31,271.99 L237.32,271.23 L238.32,270.48 L239.33,269.73 L240.33,268.99 L241.33,268.26 L242.34,267.54 L243.34,266.83 L244.35,266.13 L245.35,265.44 L246.35,264.76 L247.36,264.09 L248.36,263.44 L249.37,262.80 L250.37,262.18 L251.38,261.57 L252.38,260.98 L253.38,260.40 L254.39,259.84 L255.39,259.30 L256.40,258.78 L257.40,258.28" fill="none" stroke="#138a13" stroke-width="1.6" stroke-linejoin="round"/>
<rect x="138.20" y="223.60" width="92.60" height="20.50" fill="#fff" stroke="#777" stroke-width="0.9"/>
<text x="140.90" y="232.70" font-size="8.25">100% new EVs by 2045</text>
<text x="140.90" y="240.90" font-size="8.25">Static scrappage</text>
<rect x="69.20" y="387.00" width="166.00" height="13.90" fill="#fff" stroke="#9a9a9a" stroke-width="0.9"/>
<line x1="72.00" y1="393.90" x2="97.30" y2="393.90" stroke="#973f48" stroke-width="1.6"/>
<text x="101.90" y="397.00" font-size="8.1">Gas</text>
<line x1="127.00" y1="393.90" x2="152.30" y2="393.90" stroke="#1212ff" stroke-width="1.6"/>
<text x="156.50" y="397.00" font-size="8.1">Hybrid</text>
<line x1="190.90" y1="393.90" x2="216.20" y2="393.90" stroke="#138a13" stroke-width="1.6"/>
<text x="220.60" y="397.00" font-size="8.1">EV</text>
<text transform="translate(16.30,290.70) rotate(-90)" text-anchor="middle" font-size="9.71">Vehicle miles traveled share (pct.)</text>
<text x="126.90" y="425.00" class="lab" font-size="15.8">(c)</text>
<line x1="343.30" y1="332.34" x2="567.60" y2="332.34" stroke="#edf2f3" stroke-width="0.8"/>
<line x1="343.30" y1="304.23" x2="567.60" y2="304.23" stroke="#edf2f3" stroke-width="0.8"/>
<line x1="343.30" y1="276.12" x2="567.60" y2="276.12" stroke="#edf2f3" stroke-width="0.8"/>
<line x1="343.30" y1="248.01" x2="567.60" y2="248.01" stroke="#edf2f3" stroke-width="0.8"/>
<line x1="343.30" y1="219.90" x2="567.60" y2="219.90" stroke="#edf2f3" stroke-width="0.8"/>
<line x1="343.30" y1="219.90" x2="343.30" y2="360.45" stroke="#8c8c8c" stroke-width="1.4"/>
<line x1="342.40" y1="360.65" x2="567.60" y2="360.65" stroke="#727272" stroke-width="1.25"/>
<line x1="340.50" y1="360.45" x2="343.30" y2="360.45" stroke="#666" stroke-width="1"/>
<text x="338.80" y="364.05" text-anchor="end" font-size="8.15">0</text>
<line x1="340.50" y1="332.34" x2="343.30" y2="332.34" stroke="#666" stroke-width="1"/>
<text x="338.80" y="335.94" text-anchor="end" font-size="8.15">20</text>
<line x1="340.50" y1="304.23" x2="343.30" y2="304.23" stroke="#666" stroke-width="1"/>
<text x="338.80" y="307.83" text-anchor="end" font-size="8.15">40</text>
<line x1="340.50" y1="276.12" x2="343.30" y2="276.12" stroke="#666" stroke-width="1"/>
<text x="338.80" y="279.72" text-anchor="end" font-size="8.15">60</text>
<line x1="340.50" y1="248.01" x2="343.30" y2="248.01" stroke="#666" stroke-width="1"/>
<text x="338.80" y="251.61" text-anchor="end" font-size="8.15">80</text>
<line x1="340.50" y1="219.90" x2="343.30" y2="219.90" stroke="#666" stroke-width="1"/>
<text x="338.80" y="223.50" text-anchor="end" font-size="8.15">100</text>
<line x1="343.30" y1="360.45" x2="343.30" y2="363.35" stroke="#666" stroke-width="1"/>
<text x="343.30" y="372.75" text-anchor="middle" font-size="8.15">2020</text>
<line x1="379.55" y1="360.45" x2="379.55" y2="363.35" stroke="#666" stroke-width="1"/>
<text x="379.55" y="372.75" text-anchor="middle" font-size="8.15">2025</text>
<line x1="415.80" y1="360.45" x2="415.80" y2="363.35" stroke="#666" stroke-width="1"/>
<text x="415.80" y="372.75" text-anchor="middle" font-size="8.15">2030</text>
<line x1="452.05" y1="360.45" x2="452.05" y2="363.35" stroke="#666" stroke-width="1"/>
<text x="452.05" y="372.75" text-anchor="middle" font-size="8.15">2035</text>
<line x1="488.30" y1="360.45" x2="488.30" y2="363.35" stroke="#666" stroke-width="1"/>
<text x="488.30" y="372.75" text-anchor="middle" font-size="8.15">2040</text>
<line x1="524.55" y1="360.45" x2="524.55" y2="363.35" stroke="#666" stroke-width="1"/>
<text x="524.55" y="372.75" text-anchor="middle" font-size="8.15">2045</text>
<line x1="560.80" y1="360.45" x2="560.80" y2="363.35" stroke="#666" stroke-width="1"/>
<text x="560.80" y="372.75" text-anchor="middle" font-size="8.15">2050</text>
<text x="456.25" y="381.15" text-anchor="middle" font-size="9.3">Year</text>
<line x1="560.80" y1="219.90" x2="560.80" y2="360.45" stroke="#a0a0a0" stroke-width="2.0" stroke-dasharray="3.9 2.03" stroke-dashoffset="-0.4"/>
<path d="M343.30,223.36 L344.30,223.38 L345.30,223.41 L346.31,223.45 L347.31,223.51 L348.31,223.57 L349.31,223.64 L350.32,223.73 L351.32,223.82 L352.32,223.93 L353.32,224.05 L354.33,224.17 L355.33,224.32 L356.33,224.47 L357.33,224.63 L358.33,224.81 L359.34,224.99 L360.34,225.19 L361.34,225.41 L362.34,225.63 L363.35,225.87 L364.35,226.11 L365.35,226.38 L366.35,226.65 L367.36,226.94 L368.36,227.24 L369.36,227.55 L370.36,227.87 L371.36,228.21 L372.37,228.56 L373.37,228.93 L374.37,229.31 L375.37,229.70 L376.38,230.10 L377.38,230.52 L378.38,230.95 L379.38,231.39 L380.39,231.85 L381.39,232.31 L382.39,232.79 L383.39,233.27 L384.39,233.77 L385.40,234.28 L386.40,234.79 L387.40,235.32 L388.40,235.85 L389.41,236.39 L390.41,236.94 L391.41,237.49 L392.41,238.06 L393.42,238.63 L394.42,239.20 L395.42,239.78 L396.42,240.37 L397.42,240.96 L398.43,241.56 L399.43,242.16 L400.43,242.77 L401.43,243.38 L402.44,243.99 L403.44,244.60 L404.44,245.22 L405.44,245.84 L406.45,246.46 L407.45,247.08 L408.45,247.71 L409.45,248.33 L410.45,248.96 L411.46,249.58 L412.46,250.21 L413.46,250.84 L414.46,251.47 L415.47,252.09 L416.47,252.72 L417.47,253.35 L418.47,253.98 L419.48,254.61 L420.48,255.23 L421.48,255.86 L422.48,256.49 L423.48,257.11 L424.49,257.73 L425.49,258.36 L426.49,258.98 L427.49,259.59 L428.50,260.21 L429.50,260.83 L430.50,261.44 L431.50,262.05 L432.51,262.66 L433.51,263.26 L434.51,263.87 L435.51,264.47 L436.51,265.06 L437.52,265.66 L438.52,266.25 L439.52,266.83 L440.52,267.42 L441.53,268.00 L442.53,268.58 L443.53,269.16 L444.53,269.73 L445.54,270.30 L446.54,270.87 L447.54,271.44 L448.54,272.01 L449.54,272.57 L450.55,273.13 L451.55,273.70 L452.55,274.26 L453.55,274.82 L454.56,275.37 L455.56,275.93 L456.56,276.49 L457.56,277.04 L458.56,277.60 L459.57,278.15 L460.57,278.71 L461.57,279.26 L462.57,279.82 L463.58,280.37 L464.58,280.93 L465.58,281.48 L466.58,282.04 L467.59,282.59 L468.59,283.15 L469.59,283.71 L470.59,284.27 L471.59,284.83 L472.60,285.39 L473.60,285.95 L474.60,286.51 L475.60,287.07 L476.61,287.63 L477.61,288.20 L478.61,288.76 L479.61,289.32 L480.62,289.89 L481.62,290.45 L482.62,291.02 L483.62,291.58 L484.62,292.15 L485.63,292.71 L486.63,293.28 L487.63,293.84 L488.63,294.41 L489.64,294.98 L490.64,295.54 L491.64,296.11 L492.64,296.68 L493.65,297.25 L494.65,297.81 L495.65,298.38 L496.65,298.95 L497.65,299.52 L498.66,300.08 L499.66,300.65 L500.66,301.22 L501.66,301.79 L502.67,302.35 L503.67,302.92 L504.67,303.49 L505.67,304.05 L506.68,304.62 L507.68,305.19 L508.68,305.75 L509.68,306.32 L510.68,306.88 L511.69,307.45 L512.69,308.01 L513.69,308.58 L514.69,309.14 L515.70,309.71 L516.70,310.27 L517.70,310.84 L518.70,311.40 L519.71,311.96 L520.71,312.53 L521.71,313.09 L522.71,313.65 L523.71,314.21 L524.72,314.77 L525.72,315.34 L526.72,315.90 L527.72,316.46 L528.73,317.02 L529.73,317.57 L530.73,318.13 L531.73,318.69 L532.74,319.25 L533.74,319.80 L534.74,320.35 L535.74,320.90 L536.74,321.45 L537.75,321.99 L538.75,322.52 L539.75,323.05 L540.75,323.58 L541.76,324.10 L542.76,324.61 L543.76,325.12 L544.76,325.62 L545.77,326.11 L546.77,326.60 L547.77,327.07 L548.77,327.53 L549.77,327.99 L550.78,328.43 L551.78,328.87 L552.78,329.29 L553.78,329.70 L554.79,330.10 L555.79,330.48 L556.79,330.85 L557.79,331.21 L558.80,331.55 L559.80,331.88 L560.80,332.20" fill="none" stroke="#973f48" stroke-width="1.6" stroke-linejoin="round"/>
<path d="M343.30,357.69 L344.30,357.63 L345.30,357.58 L346.31,357.53 L347.31,357.48 L348.31,357.42 L349.31,357.37 L350.32,357.32 L351.32,357.26 L352.32,357.21 L353.32,357.15 L354.33,357.09 L355.33,357.02 L356.33,356.96 L357.33,356.88 L358.33,356.81 L359.34,356.73 L360.34,356.64 L361.34,356.55 L362.34,356.45 L363.35,356.35 L364.35,356.23 L365.35,356.11 L366.35,355.99 L367.36,355.85 L368.36,355.71 L369.36,355.55 L370.36,355.39 L371.36,355.21 L372.37,355.02 L373.37,354.83 L374.37,354.62 L375.37,354.40 L376.38,354.17 L377.38,353.92 L378.38,353.67 L379.38,353.40 L380.39,353.13 L381.39,352.84 L382.39,352.55 L383.39,352.25 L384.39,351.94 L385.40,351.63 L386.40,351.30 L387.40,350.98 L388.40,350.64 L389.41,350.30 L390.41,349.96 L391.41,349.61 L392.41,349.26 L393.42,348.90 L394.42,348.54 L395.42,348.18 L396.42,347.82 L397.42,347.46 L398.43,347.09 L399.43,346.73 L400.43,346.36 L401.43,346.00 L402.44,345.64 L403.44,345.28 L404.44,344.92 L405.44,344.56 L406.45,344.21 L407.45,343.86 L408.45,343.51 L409.45,343.17 L410.45,342.83 L411.46,342.50 L412.46,342.17 L413.46,341.84 L414.46,341.52 L415.47,341.21 L416.47,340.89 L417.47,340.59 L418.47,340.28 L419.48,339.99 L420.48,339.69 L421.48,339.41 L422.48,339.13 L423.48,338.85 L424.49,338.58 L425.49,338.32 L426.49,338.06 L427.49,337.81 L428.50,337.56 L429.50,337.33 L430.50,337.10 L431.50,336.87 L432.51,336.65 L433.51,336.44 L434.51,336.24 L435.51,336.05 L436.51,335.86 L437.52,335.68 L438.52,335.51 L439.52,335.34 L440.52,335.19 L441.53,335.04 L442.53,334.89 L443.53,334.76 L444.53,334.63 L445.54,334.50 L446.54,334.38 L447.54,334.27 L448.54,334.17 L449.54,334.07 L450.55,333.97 L451.55,333.88 L452.55,333.80 L453.55,333.72 L454.56,333.64 L455.56,333.57 L456.56,333.51 L457.56,333.45 L458.56,333.39 L459.57,333.33 L460.57,333.28 L461.57,333.24 L462.57,333.19 L463.58,333.15 L464.58,333.12 L465.58,333.08 L466.58,333.05 L467.59,333.02 L468.59,332.99 L469.59,332.97 L470.59,332.95 L471.59,332.93 L472.60,332.91 L473.60,332.90 L474.60,332.89 L475.60,332.88 L476.61,332.87 L477.61,332.87 L478.61,332.88 L479.61,332.89 L480.62,332.90 L481.62,332.92 L482.62,332.94 L483.62,332.96 L484.62,332.99 L485.63,333.03 L486.63,333.07 L487.63,333.12 L488.63,333.17 L489.64,333.22 L490.64,333.29 L491.64,333.36 L492.64,333.43 L493.65,333.51 L494.65,333.60 L495.65,333.70 L496.65,333.80 L497.65,333.91 L498.66,334.02 L499.66,334.14 L500.66,334.27 L501.66,334.41 L502.67,334.55 L503.67,334.70 L504.67,334.85 L505.67,335.01 L506.68,335.18 L507.68,335.35 L508.68,335.52 L509.68,335.70 L510.68,335.89 L511.69,336.07 L512.69,336.26 L513.69,336.45 L514.69,336.65 L515.70,336.85 L516.70,337.05 L517.70,337.25 L518.70,337.45 L519.71,337.66 L520.71,337.86 L521.71,338.07 L522.71,338.27 L523.71,338.48 L524.72,338.69 L525.72,338.89 L526.72,339.10 L527.72,339.30 L528.73,339.50 L529.73,339.70 L530.73,339.90 L531.73,340.10 L532.74,340.29 L533.74,340.49 L534.74,340.68 L535.74,340.87 L536.74,341.05 L537.75,341.24 L538.75,341.42 L539.75,341.61 L540.75,341.79 L541.76,341.97 L542.76,342.15 L543.76,342.33 L544.76,342.50 L545.77,342.68 L546.77,342.85 L547.77,343.03 L548.77,343.20 L549.77,343.37 L550.78,343.54 L551.78,343.71 L552.78,343.88 L553.78,344.05 L554.79,344.22 L555.79,344.39 L556.79,344.56 L557.79,344.73 L558.80,344.90 L559.80,345.07 L560.80,345.23" fill="none" stroke="#1212ff" stroke-width="1.6" stroke-linejoin="round"/>
<path d="M343.30,359.71 L344.30,359.72 L345.30,359.72 L346.31,359.72 L347.31,359.71 L348.31,359.69 L349.31,359.66 L350.32,359.63 L351.32,359.59 L352.32,359.55 L353.32,359.50 L354.33,359.44 L355.33,359.37 L356.33,359.30 L357.33,359.23 L358.33,359.14 L359.34,359.05 L360.34,358.95 L361.34,358.85 L362.34,358.74 L363.35,358.62 L364.35,358.50 L365.35,358.37 L366.35,358.24 L367.36,358.09 L368.36,357.95 L369.36,357.79 L370.36,357.63 L371.36,357.46 L372.37,357.29 L373.37,357.11 L374.37,356.92 L375.37,356.73 L376.38,356.53 L377.38,356.33 L378.38,356.12 L379.38,355.91 L380.39,355.69 L381.39,355.46 L382.39,355.23 L383.39,355.00 L384.39,354.76 L385.40,354.52 L386.40,354.27 L387.40,354.02 L388.40,353.76 L389.41,353.50 L390.41,353.24 L391.41,352.98 L392.41,352.71 L393.42,352.44 L394.42,352.17 L395.42,351.89 L396.42,351.61 L397.42,351.33 L398.43,351.05 L399.43,350.77 L400.43,350.48 L401.43,350.20 L402.44,349.91 L403.44,349.62 L404.44,349.34 L405.44,349.05 L406.45,348.76 L407.45,348.47 L408.45,348.18 L409.45,347.89 L410.45,347.59 L411.46,347.30 L412.46,347.01 L413.46,346.71 L414.46,346.41 L415.47,346.11 L416.47,345.81 L417.47,345.50 L418.47,345.20 L419.48,344.89 L420.48,344.57 L421.48,344.26 L422.48,343.94 L423.48,343.61 L424.49,343.29 L425.49,342.96 L426.49,342.62 L427.49,342.28 L428.50,341.94 L429.50,341.59 L430.50,341.24 L431.50,340.88 L432.51,340.52 L433.51,340.15 L434.51,339.78 L435.51,339.40 L436.51,339.01 L437.52,338.62 L438.52,338.22 L439.52,337.82 L440.52,337.41 L441.53,337.00 L442.53,336.57 L443.53,336.15 L444.53,335.72 L445.54,335.28 L446.54,334.84 L447.54,334.39 L448.54,333.94 L449.54,333.48 L450.55,333.02 L451.55,332.55 L452.55,332.08 L453.55,331.60 L454.56,331.12 L455.56,330.63 L456.56,330.14 L457.56,329.64 L458.56,329.14 L459.57,328.64 L460.57,328.13 L461.57,327.62 L462.57,327.11 L463.58,326.59 L464.58,326.06 L465.58,325.54 L466.58,325.01 L467.59,324.47 L468.59,323.94 L469.59,323.40 L470.59,322.85 L471.59,322.30 L472.60,321.75 L473.60,321.20 L474.60,320.64 L475.60,320.07 L476.61,319.51 L477.61,318.94 L478.61,318.36 L479.61,317.78 L480.62,317.19 L481.62,316.60 L482.62,316.01 L483.62,315.41 L484.62,314.81 L485.63,314.20 L486.63,313.59 L487.63,312.97 L488.63,312.34 L489.64,311.71 L490.64,311.08 L491.64,310.44 L492.64,309.79 L493.65,309.14 L494.65,308.48 L495.65,307.82 L496.65,307.15 L497.65,306.47 L498.66,305.79 L499.66,305.10 L500.66,304.41 L501.66,303.71 L502.67,303.01 L503.67,302.30 L504.67,301.58 L505.67,300.87 L506.68,300.14 L507.68,299.42 L508.68,298.69 L509.68,297.95 L510.68,297.22 L511.69,296.48 L512.69,295.74 L513.69,295.00 L514.69,294.26 L515.70,293.51 L516.70,292.77 L517.70,292.02 L518.70,291.28 L519.71,290.53 L520.71,289.78 L521.71,289.04 L522.71,288.30 L523.71,287.55 L524.72,286.81 L525.72,286.07 L526.72,285.34 L527.72,284.60 L528.73,283.87 L529.73,283.14 L530.73,282.42 L531.73,281.70 L532.74,280.98 L533.74,280.27 L534.74,279.56 L535.74,278.86 L536.74,278.16 L537.75,277.46 L538.75,276.77 L539.75,276.09 L540.75,275.41 L541.76,274.74 L542.76,274.07 L543.76,273.40 L544.76,272.75 L545.77,272.10 L546.77,271.45 L547.77,270.81 L548.77,270.18 L549.77,269.56 L550.78,268.94 L551.78,268.33 L552.78,267.72 L553.78,267.12 L554.79,266.54 L555.79,265.95 L556.79,265.38 L557.79,264.81 L558.80,264.26 L559.80,263.71 L560.80,263.17" fill="none" stroke="#138a13" stroke-width="1.6" stroke-linejoin="round"/>
<rect x="442.40" y="223.60" width="92.20" height="20.10" fill="#fff" stroke="#777" stroke-width="0.9"/>
<text x="444.70" y="232.70" font-size="8.25">100% new EVs by 2045</text>
<text x="444.70" y="240.90" font-size="8.25">Dynamic scrappage</text>
<rect x="373.10" y="386.50" width="165.30" height="14.40" fill="#fff" stroke="#9a9a9a" stroke-width="0.9"/>
<line x1="375.90" y1="393.60" x2="401.20" y2="393.60" stroke="#973f48" stroke-width="1.6"/>
<text x="405.50" y="396.70" font-size="8.1">Gas</text>
<line x1="431.00" y1="393.60" x2="456.30" y2="393.60" stroke="#1212ff" stroke-width="1.6"/>
<text x="460.50" y="396.70" font-size="8.1">Hybrid</text>
<line x1="494.60" y1="393.60" x2="519.90" y2="393.60" stroke="#138a13" stroke-width="1.6"/>
<text x="524.50" y="396.70" font-size="8.1">EV</text>
<text transform="translate(320.40,290.45) rotate(-90)" text-anchor="middle" font-size="9.68">Vehicle miles traveled share (pct.)</text>
<text x="430.40" y="425.00" class="lab" font-size="15.8">(d)</text>
</svg>
</body></html>
